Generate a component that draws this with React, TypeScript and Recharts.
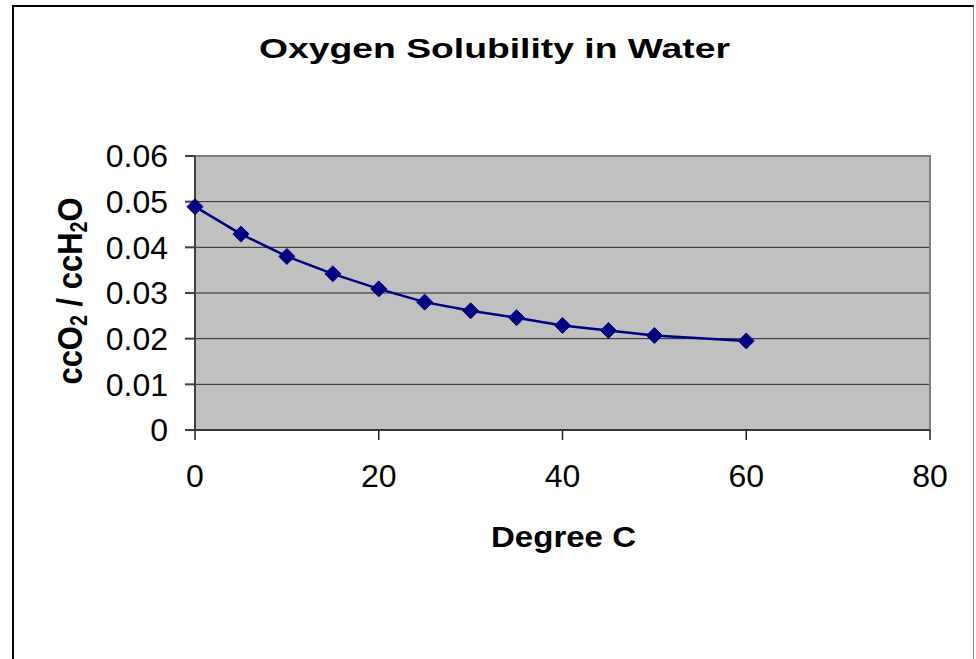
import React from "react";
import {
  LineChart,
  Line,
  XAxis,
  YAxis,
  CartesianGrid,
  ReferenceArea,
  Customized,
} from "recharts";

const temperatures = [0, 5, 10, 15, 20, 25, 30, 35, 40, 45, 50, 60];
const solubility = [0.0489, 0.0429, 0.038, 0.0342, 0.0309, 0.028, 0.0261, 0.0246, 0.0229, 0.0218, 0.0207, 0.0195];
const xTicks = [0, 20, 40, 60, 80];
const yTicks = [0, 0.01, 0.02, 0.03, 0.04, 0.05, 0.06];

const titleText = "Oxygen Solubility in Water";
const xLabelText = "Degree C";

const data = temperatures.map((t, i) => ({ t, v: solubility[i] }));

const FONT = "'Liberation Sans', Arial, sans-serif";

const Diamond = (props: any) => {
  const { cx, cy } = props;
  if (cx == null || cy == null) return null;
  const r = 8;
  return (
    <polygon
      points={`${cx},${cy - r} ${cx + r},${cy} ${cx},${cy + r} ${cx - r},${cy}`}
      fill="#000080"
      stroke="#000080"
      strokeWidth={1}
    />
  );
};

const Texts = () => (
  <g fontFamily={FONT} fontWeight="bold" fill="#000">
    <text
      x={494.5}
      y={58}
      fontSize={27}
      textAnchor="middle"
      textLength={471}
      lengthAdjust="spacingAndGlyphs"
    >
      {titleText}
    </text>
    <text
      x={563.5}
      y={547}
      fontSize={29}
      textAnchor="middle"
      textLength={145}
      lengthAdjust="spacingAndGlyphs"
    >
      {xLabelText}
    </text>
    <g transform="translate(82,291) rotate(-90) scale(0.86,1)">
      <text x={0} y={0} fontSize={36} textAnchor="middle">
        <tspan>ccO</tspan>
        <tspan fontSize={23} dy={5}>2</tspan>
        <tspan dy={-5}> / ccH</tspan>
        <tspan fontSize={23} dy={5}>2</tspan>
        <tspan dy={-5}>O</tspan>
      </text>
    </g>
  </g>
);

export default function App() {
  return (
    <div style={{ position: "absolute", left: 0, top: 0, width: 976, height: 659, background: "#fff" }}>
      <div
        style={{
          position: "absolute",
          left: 12,
          top: 5,
          width: 962,
          height: 660,
          borderLeft: "2px solid #000",
          borderTop: "2px solid #000",
          borderRight: "1px solid #888",
          boxSizing: "border-box",
        }}
      />
      <div style={{ position: "absolute", left: 0, top: 0 }}>
        <LineChart
          width={976}
          height={659}
          data={data}
          margin={{ top: 156, right: 46, bottom: 169, left: 0 }}
        >
          <CartesianGrid
            vertical={false}
            horizontal={true}
            fill="#C0C0C0"
            fillOpacity={1}
            stroke="#000"
            strokeOpacity={0.8}
          />
          <ReferenceArea
            x1={0}
            x2={80}
            y1={0}
            y2={0.06}
            fill="none"
            stroke="#808080"
            strokeWidth={2}
            ifOverflow="visible"
          />
          <XAxis
            dataKey="t"
            type="number"
            domain={[0, 80]}
            ticks={xTicks}
            height={60}
            stroke="#202020"
            strokeWidth={1.5}
            tickSize={10}
            tickMargin={24}
            tick={{ fill: "#000", fontSize: 32, fontFamily: FONT }}
            interval={0}
          />
          <YAxis
            type="number"
            domain={[0, 0.06]}
            ticks={yTicks}
            width={195}
            stroke="#404040"
            strokeWidth={2}
            tickSize={10}
            tickMargin={17}
            tick={{ fill: "#000", fontSize: 32, fontFamily: FONT }}
            tickFormatter={(v: number) => (v === 0 ? "0" : v.toFixed(2))}
            interval={0}
          />
          <Line
            type="linear"
            dataKey="v"
            stroke="#000080"
            strokeWidth={2.5}
            dot={<Diamond />}
            activeDot={false}
            isAnimationActive={false}
          />
          <Customized component={Texts} />
        </LineChart>
      </div>
    </div>
  );
}
